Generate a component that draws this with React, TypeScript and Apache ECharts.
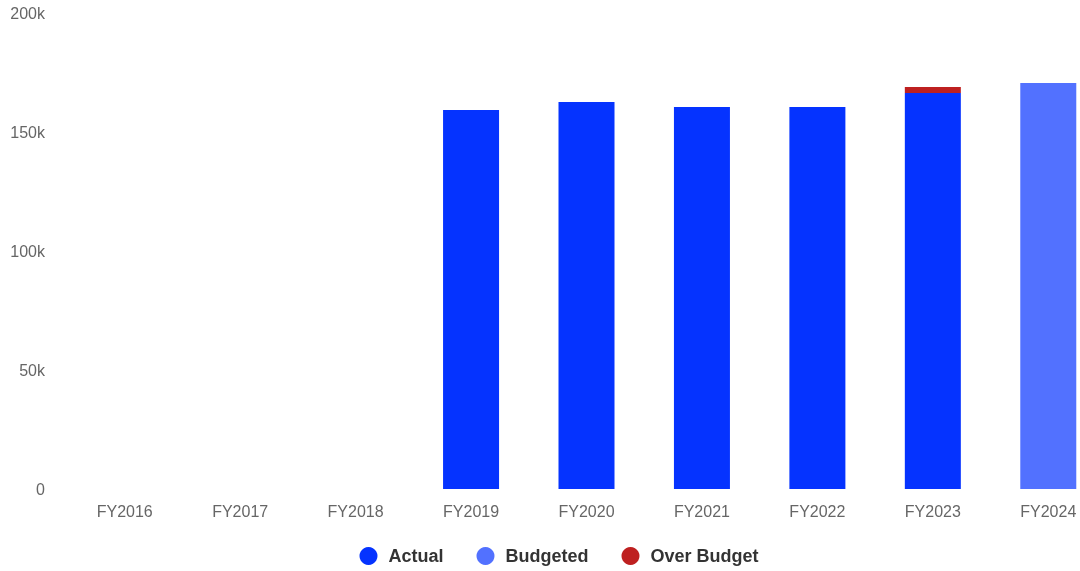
import React, { useEffect, useRef } from "react";
import * as echarts from "echarts";

const categories = ["FY2016", "FY2017", "FY2018", "FY2019", "FY2020", "FY2021", "FY2022", "FY2023", "FY2024"];
const actual = [null, null, null, 159200, 162600, 160500, 160500, 166400, null];
const budgeted = [null, null, null, null, null, null, null, null, 170600];
const overBudget = [null, null, null, null, null, null, null, 2500, null];
const yTicks = { min: 0, max: 200000, interval: 50000 };

export default function App() {
  const ref = useRef<HTMLDivElement>(null);
  useEffect(() => {
    if (!ref.current) return;
    const chart = echarts.init(ref.current, null, { renderer: "svg" });
    chart.setOption({
      animation: false,
      grid: { left: 67, right: 12, top: 13, bottom: 82 },
      legend: {
        bottom: 1,
        left: "center",
        icon: "circle",
        itemWidth: 18,
        itemHeight: 18,
        itemGap: 33,
        textStyle: { fontSize: 18, fontWeight: "bold", color: "#333", fontFamily: "Liberation Sans, Arial, sans-serif", padding: [0, 0, 0, 6] },
        data: ["Actual", "Budgeted", "Over Budget"],
      },
      xAxis: {
        type: "category",
        data: categories,
        axisLine: { show: false },
        axisTick: { show: false },
        axisLabel: { color: "#666", fontSize: 16, margin: 14, fontFamily: "Liberation Sans, Arial, sans-serif" },
      },
      yAxis: {
        type: "value",
        min: yTicks.min,
        max: yTicks.max,
        interval: yTicks.interval,
        splitLine: { show: false },
        axisLine: { show: false },
        axisTick: { show: false },
        axisLabel: {
          color: "#666",
          fontSize: 16,
          margin: 22,
          fontFamily: "Liberation Sans, Arial, sans-serif",
          formatter: (v: number) => (v === 0 ? "0" : v / 1000 + "k"),
        },
      },
      series: [
        { name: "Actual", type: "bar", stack: "total", barWidth: 56, data: actual, itemStyle: { color: "#0533FF" } },
        { name: "Budgeted", type: "bar", stack: "total", barWidth: 56, data: budgeted, itemStyle: { color: "#5271FF" } },
        { name: "Over Budget", type: "bar", stack: "total", barWidth: 56, data: overBudget, itemStyle: { color: "#BE2020" } },
      ],
    });
    return () => chart.dispose();
  }, []);
  return <div ref={ref} style={{ position: "fixed", left: 0, top: 0, width: 1118, height: 571 }} />;
}
